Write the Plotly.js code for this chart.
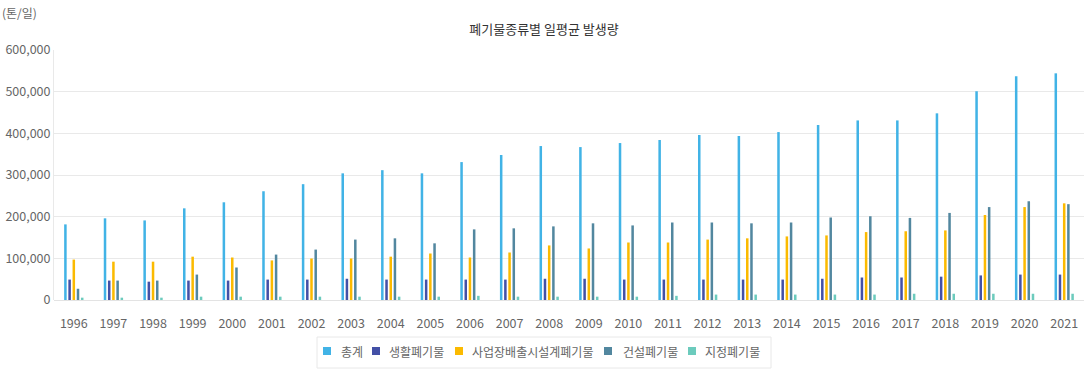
<!DOCTYPE html>
<html><head><meta charset="utf-8">
<script src="https://cdn.plot.ly/plotly-3.0.1.min.js"></script>
<style>html,body{margin:0;padding:0;background:#fff;}#chart{width:1088px;height:369px;}</style>
</head><body><div id="chart"></div>
<script>
const years = ['1996','1997','1998','1999','2000','2001','2002','2003','2004','2005','2006','2007','2008','2009','2010','2011','2012','2013','2014','2015','2016','2017','2018','2019','2020','2021'];
const total =        [181500,196000,191000,220000,234500,261000,278000,304000,311600,304000,331000,348000,369500,367000,376700,384000,396000,393600,403000,420000,431000,431000,448000,501000,537000,544000];
const household =    [49000,46600,44000,46600,46600,49000,49000,51000,49000,49000,49000,49000,51000,51000,49000,49000,49000,49000,49000,51000,54000,54000,56000,59000,61000,61000];
const business =     [97000,92000,92000,104000,102000,95000,99600,99600,104000,111600,102000,114000,131000,123700,138000,138000,145000,148000,152600,155000,163000,165000,167000,204000,223000,232000];
const construction = [27000,46600,46600,61000,78000,109000,121000,145000,148000,136000,169500,172000,176700,184000,179000,186000,186000,184000,186000,198000,201000,197000,209000,223000,237000,230000];
const designated =   [5600,5600,5600,8000,8000,8000,8000,8000,8000,8000,10000,8000,8000,8000,8000,10000,13000,13000,13000,13000,13000,15000,15000,15000,15000,15000];
const seriesNames = ['총계','생활폐기물','사업장배출시설계폐기물','건설폐기물','지정폐기물'];
const seriesColors = ['#41b3e6','#4350a6','#fbba00','#52879f','#6ccbbd'];
const seriesData = [total, household, business, construction, designated];

const font = "'Noto Sans CJK KR','Noto Sans',sans-serif";
const W = 1088, H = 369, M = {l:54, r:4, t:50, b:69};
const pw = W - M.l - M.r, ph = H - M.t - M.b;
const px = x => (x - M.l) / pw;
const py = y => (H - M.b - y) / ph;

const traces = seriesData.map((d,i)=>({
  type:'bar', x:years, y:d, name:seriesNames[i],
  marker:{color:seriesColors[i]}, showlegend:false,
  hoverinfo:'x+y+name'
}));

// custom legend (pixel layout of the reference legend box)
const legSquareX = [323, 372, 455, 604, 688];
const legTextX = [340, 388, 471, 622, 704];
const shapes = [{type:'rect', xref:'paper', yref:'paper', x0:px(317), x1:px(771), y0:py(368), y1:py(337), line:{color:'#e8e8e8', width:1}, fillcolor:'rgba(0,0,0,0)'}];
const annotations = [{text:'(톤/일)', xref:'paper', yref:'paper', x:px(0), y:py(2), xanchor:'left', yanchor:'top', showarrow:false, font:{size:12, color:'#666', family:font}}];
seriesNames.forEach((n,i)=>{
  shapes.push({type:'rect', xref:'paper', yref:'paper', x0:px(legSquareX[i]), x1:px(legSquareX[i]+8), y0:py(355), y1:py(347), line:{width:0}, fillcolor:seriesColors[i]});
  annotations.push({text:n, xref:'paper', yref:'paper', x:px(legTextX[i]), y:py(351.5), xanchor:'left', yanchor:'middle', showarrow:false, borderpad:0, font:{size:12, color:'#666', family:font}});
});

const layout = {
  width:W, height:H,
  margin:{l:M.l, r:M.r, t:M.t, b:M.b, autoexpand:false},
  paper_bgcolor:'#fff', plot_bgcolor:'#fff',
  font:{family:font, color:'#666', size:12},
  title:{text:'폐기물종류별 일평균 발생량', font:{family:font, size:13, color:'#333'}, x:0.5, xanchor:'center', y:0.92, yanchor:'middle'},
  barmode:'group', bargap:0.47, bargroupgap:0.4,
  showlegend:false,
  xaxis:{type:'category', showline:false, ticks:'outside', ticklen:12, tickcolor:'rgba(0,0,0,0)', tickfont:{size:12.5, color:'#666'}, showgrid:false, zeroline:false},
  yaxis:{range:[0,600000], dtick:100000, tickformat:',', showgrid:true, gridcolor:'#e9e9e9', zeroline:true, zerolinecolor:'#e3e3e3', showline:true, linecolor:'#e9e9e9', ticks:'', tickfont:{size:12.5, color:'#666'}},
  shapes:shapes, annotations:annotations
};
Plotly.newPlot('chart', traces, layout, {displayModeBar:false, staticPlot:true});
</script></body></html>
